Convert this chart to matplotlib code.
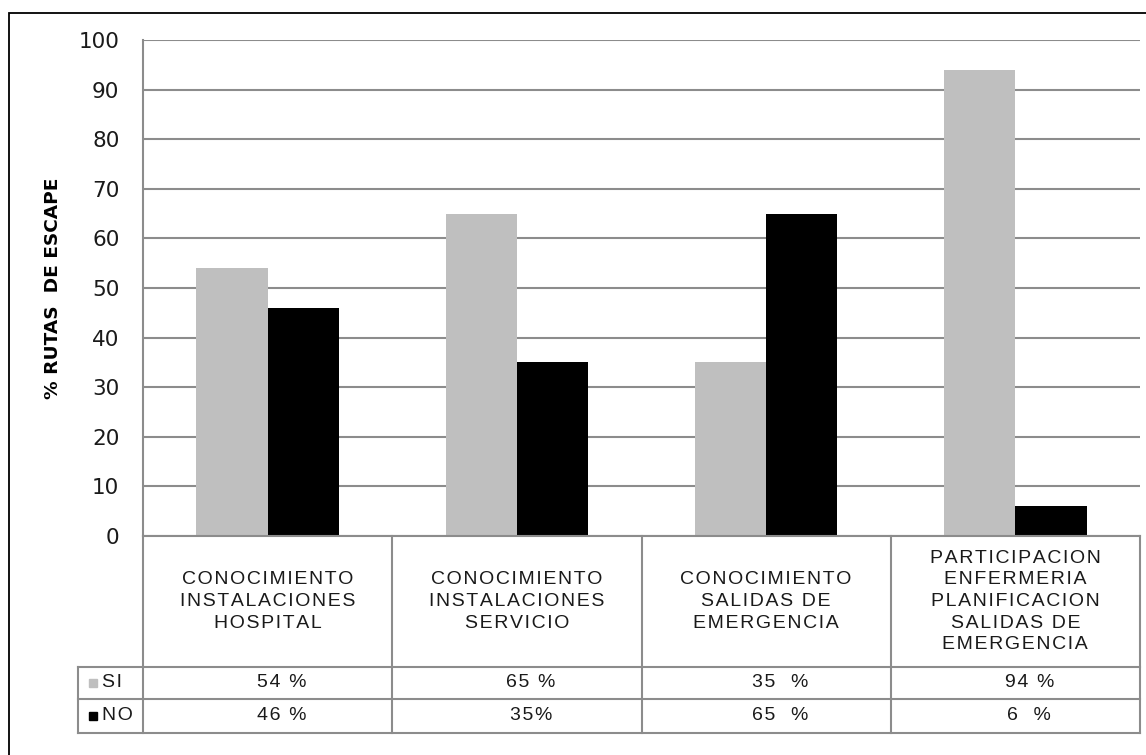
import numpy as np
import matplotlib
matplotlib.use("Agg")
import matplotlib.pyplot as plt
from matplotlib.patches import Rectangle

# data
categories = [
    "CONOCIMIENTO\nINSTALACIONES\nHOSPITAL",
    "CONOCIMIENTO\nINSTALACIONES\nSERVICIO",
    "CONOCIMIENTO\nSALIDAS DE\nEMERGENCIA",
    "PARTICIPACION\nENFERMERIA\nPLANIFICACION\nSALIDAS DE\nEMERGENCIA",
]
si_values = [54, 65, 35, 94]
no_values = [46, 35, 65, 6]
si_labels = ["54 %", "65 %", "35  %", "94 %"]
no_labels = ["46 %", "35%", "65  %", "6  %"]
series_names = ["SI", "NO"]
series_colors = ["#bfbfbf", "#000000"]

W, H = 1146, 755
GRID = "#8c8c8c"


def fx(px):
    return px / W


def fy(py):
    return 1 - py / H


def spaced(s):
    # excel table text is drawn with a bit of letter spacing
    return "\n".join("\u200a".join(line) for line in s.split("\n"))


fig = plt.figure(figsize=(W / 100, H / 100), dpi=100)

# outer chart border (only left/top visible in the crop)
fig.patches.append(Rectangle((fx(9), fy(790)), fx(1200) - fx(9), fy(13) - fy(790),
                             transform=fig.transFigure, fill=False, edgecolor="black",
                             linewidth=1.3, clip_on=False))

# plot area
x_left, x_right, y_top, y_zero = 143, 1140, 40, 536
ax = fig.add_axes([fx(x_left), fy(y_zero), fx(x_right) - fx(x_left), fy(y_top) - fy(y_zero)])

n = len(categories)
x = np.arange(n)
bw = 1 / 3.5  # excel gap width 150%
ax.bar(x - bw / 2, si_values, width=bw, color=series_colors[0], zorder=3)
ax.bar(x + bw / 2, no_values, width=bw, color=series_colors[1], zorder=3)

ax.set_xlim(-0.5, n - 0.5)
ax.set_ylim(0, 100)
ax.set_yticks(range(0, 101, 10))
ax.set_xticks([])
ax.yaxis.grid(True, color=GRID, linewidth=1.5, zorder=0)
for s in ["top", "right", "bottom"]:
    ax.spines[s].set_visible(False)
ax.spines["left"].set_color(GRID)
ax.spines["left"].set_linewidth(1.5)
ax.tick_params(axis="y", length=0, labelsize=15.5, pad=17, labelcolor="#1a1a1a",
               labelfontfamily="DejaVu Sans")
ax.set_ylabel("% RUTAS  DE ESCAPE", fontsize=13.3, fontweight="bold",
              fontfamily="DejaVu Sans", labelpad=12)

# data table below the plot
unit = (x_right - x_left) / n
leg_left = 78
rows = [536, 667, 699, 733]
tx = fig.add_axes([fx(leg_left), fy(rows[-1]), fx(x_right) - fx(leg_left), fy(rows[0]) - fy(rows[-1])])
tx.set_xlim(-0.5 - (x_left - leg_left) / unit, n - 0.5)
tx.set_ylim(rows[-1], rows[0])
tx.axis("off")
xl0 = tx.get_xlim()[0]

lk = dict(color=GRID, linewidth=1.5, solid_capstyle="projecting", clip_on=False)
tx.plot([-0.5, n - 0.5], [rows[0], rows[0]], **lk)
for r in rows[1:]:
    tx.plot([xl0, n - 0.5], [r, r], **lk)
for b in np.arange(n + 1) - 0.5:
    tx.plot([b, b], [rows[0], rows[-1]], **lk)
tx.plot([xl0, xl0], [rows[1], rows[-1]], **lk)

tfont = dict(fontfamily=["Liberation Sans", "DejaVu Sans"], fontsize=14, color="#1a1a1a")
val_shift = 14 / unit  # values sit a little right of centre in the original
for i, cat in enumerate(categories):
    tx.text(i, (rows[0] + rows[1]) / 2, spaced(cat), ha="center", va="center",
            linespacing=1.35, **tfont)
    tx.text(i + val_shift, (rows[1] + rows[2]) / 2, spaced(si_labels[i]),
            ha="center", va="center", **tfont)
    tx.text(i + val_shift, (rows[2] + rows[3]) / 2, spaced(no_labels[i]),
            ha="center", va="center", **tfont)

# legend keys in first column
for k, (name, col) in enumerate(zip(series_names, series_colors)):
    yc = (rows[k + 1] + rows[k + 2]) / 2
    tx.plot([xl0 + 15 / unit], [yc], marker="s", markersize=6, color=col, clip_on=False)
    tx.text(xl0 + 24 / unit, yc, spaced(name), ha="left", va="center", **tfont)

fig.savefig("out.png", dpi=100)
